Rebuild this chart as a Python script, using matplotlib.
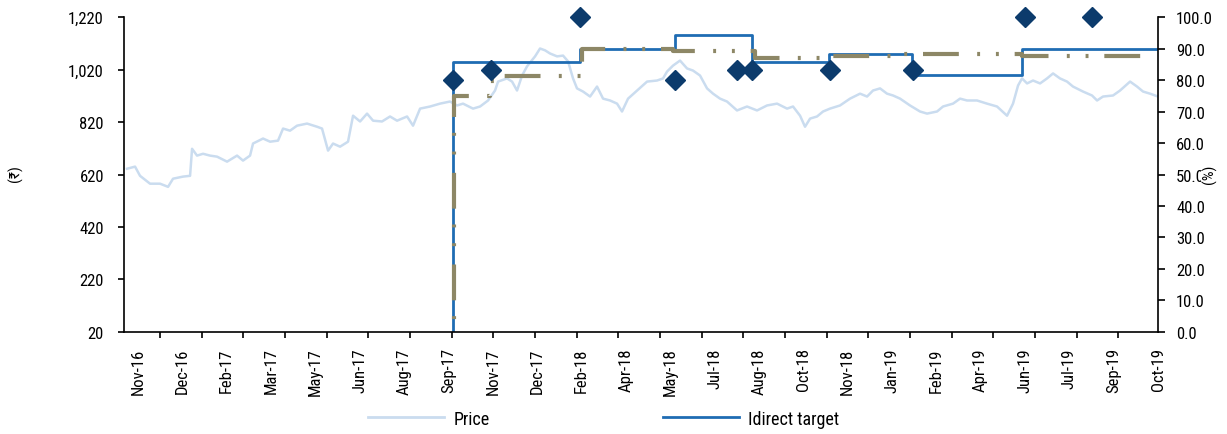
import matplotlib
matplotlib.use("Agg")
import matplotlib.pyplot as plt
from matplotlib import font_manager
from matplotlib.ticker import FuncFormatter, FixedLocator, NullFormatter

# ---------------- data ----------------
x_labels = ["Nov-16", "Dec-16", "Feb-17", "Mar-17", "May-17", "Jun-17", "Aug-17", "Sep-17",
            "Nov-17", "Dec-17", "Feb-18", "Apr-18", "May-18", "Jul-18", "Aug-18", "Oct-18",
            "Nov-18", "Jan-19", "Feb-19", "Apr-19", "Jun-19", "Jul-19", "Sep-19", "Oct-19"]

# price (week index since start, value in Rs)
price_week = [0.45, 1.66, 2.41, 3.92, 5.43, 6.64, 7.39, 8.90, 9.96, 10.26, 11.01, 11.92, 12.97,
              14.03, 15.54, 17.05, 17.95, 19.01, 19.46, 20.97, 22.03, 23.23, 23.99, 25.04, 26.10,
              27.61, 29.12, 29.87, 30.78, 31.53, 32.59, 33.79, 34.55, 35.61, 36.66, 37.57, 38.92,
              40.13, 41.19, 42.70, 43.60, 44.36, 44.66, 46.17, 47.67, 49.18, 50.24, 51.14, 52.65,
              53.71, 54.92, 55.97, 56.43, 57.78, 58.54, 59.29, 60.05, 60.80, 62.01, 62.76, 63.52,
              64.27, 65.33, 66.23, 66.99, 67.74, 68.34, 69.25, 70.31, 71.36, 72.27, 73.32, 74.38,
              75.13, 76.04, 77.40, 78.91, 80.41, 81.32, 81.92, 82.83, 83.88, 84.94, 85.84, 86.90,
              87.96, 88.86, 89.92, 90.97, 92.48, 93.99, 95.50, 97.01, 98.52, 100.03, 100.93,
              101.99, 102.74, 103.50, 104.55, 105.46, 106.51, 108.02, 109.53, 111.04, 112.10,
              113.00, 114.06, 115.11, 116.02, 117.08, 118.58, 120.09, 121.15, 122.66, 123.56,
              125.07, 126.13, 127.18, 128.69, 130.20, 131.71, 133.22, 134.12, 134.88, 135.48,
              136.24, 137.14, 138.20, 139.25, 140.16, 141.21, 142.27, 143.17, 144.68, 146.04,
              146.80, 147.70, 149.21, 150.27, 151.78, 152.83, 153.74, 154.79, 156.0]
price_value = [642, 650, 615, 585, 585, 573, 604, 612, 615, 718, 692, 699, 692,
               688, 669, 692, 673, 692, 738, 757, 745, 749, 795, 787, 806,
               814, 802, 795, 711, 738, 726, 745, 844, 822, 852, 825, 822,
               841, 825, 841, 806, 852, 871, 879, 890, 898, 883, 890, 871,
               879, 902, 940, 974, 986, 974, 940, 997, 1032, 1070, 1100, 1093,
               1081, 1070, 1073, 1051, 986, 948, 936, 917, 955, 909, 902, 890,
               860, 909, 940, 974, 978, 986, 1012, 1035, 1054, 1024, 1016, 997,
               948, 928, 909, 898, 864, 879, 864, 883, 890, 871, 879,
               844, 802, 833, 841, 860, 871, 883, 909, 928, 917,
               940, 948, 928, 921, 909, 883, 860, 852, 860, 879,
               890, 909, 902, 902, 890, 879, 844, 890, 959, 986,
               967, 978, 967, 986, 1005, 986, 974, 955, 936, 921,
               902, 917, 921, 940, 974, 955, 936, 928, 917]

# Idirect target (step changes)
target_week = [0, 49.6, 49.6, 68.8, 83.1, 94.7, 106.4, 118.9, 135.5, 156.0]
target_value = [0, 0, 1050, 1100, 1150, 1050, 1080, 1000, 1100, 1100]

# Consensus target (step changes)
cons_week = [0, 49.8, 49.8, 55.2, 56.4, 69.1, 82.8, 95.2, 106.4, 117.0, 135.5, 156.0]
cons_value = [0, 0, 920, 975, 995, 1100, 1090, 1062, 1073, 1080, 1070, 1070]

# % consensus with BUY (RHS)
buy_week = [49.6, 55.4, 68.8, 83.1, 92.5, 94.7, 106.5, 119.0, 135.9, 146.0]
buy_pct = [80.0, 83.3, 100.0, 80.0, 83.3, 83.3, 83.3, 83.3, 100.0, 100.0]

# ---------------- style ----------------
avail = {f.name for f in font_manager.fontManager.ttflist}
fam = "DejaVu Sans"
for cand in ["Liberation Sans Narrow", "DejaVu Sans Condensed", "Roboto Condensed", "Liberation Sans"]:
    if cand in avail:
        fam = cand
        break
plt.rcParams["font.family"] = [fam, "DejaVu Sans"]
fs = 12

c_price = "#cadcef"
c_target = "#1f6cb3"
c_cons = "#8d8766"
c_buy = "#0c3b6c"

fig = plt.figure(figsize=(12.27, 4.35), dpi=100)
ax = fig.add_axes([0.1011, 0.2345, 0.8427, 0.7241])
ax2 = ax.twinx()

ax.plot(price_week, price_value, color=c_price, lw=1.8, zorder=1, label="Price")
ax.step(target_week, target_value, where="post", color=c_target, lw=2.0, zorder=2,
        label="Idirect target")
ax.step(cons_week, cons_value, where="post", color=c_cons, lw=3.0, zorder=3,
        linestyle=(0, (8.6, 4.4, 0.7, 3.8, 0.7, 3.8)))
ax2.plot(buy_week, buy_pct, linestyle="none", marker="D", markersize=10,
         color=c_buy, clip_on=False, zorder=5)

n_weeks = 156.0
ax.set_xlim(0, n_weeks)
ax.set_ylim(20, 1220)
ax2.set_ylim(0, 100)

ax.set_yticks([20, 220, 420, 620, 820, 1020, 1220])
ax.yaxis.set_major_formatter(FuncFormatter(lambda v, p: f"{v:,.0f}"))
ax2.set_yticks([i * 10 for i in range(11)])
ax2.yaxis.set_major_formatter(FuncFormatter(lambda v, p: f"{v:.1f}"))

# x labels evenly spread (category-style axis), tick marks at their own interval
lab_step = (n_weeks - 2.11) / (len(x_labels) - 1)
lab_pos = [2.11 + k * lab_step for k in range(len(x_labels))]
ax.xaxis.set_major_locator(FixedLocator(lab_pos))
ax.set_xticklabels(x_labels, rotation=90)
tick_pos = [5.43 + k * 6.287 for k in range(24)]
ax.xaxis.set_minor_locator(FixedLocator(tick_pos))
ax.xaxis.set_minor_formatter(NullFormatter())
ax.tick_params(axis="x", which="major", length=0, pad=11, labelsize=fs)
ax.tick_params(axis="x", which="minor", length=4.5, width=1.2, direction="out")
ax.tick_params(axis="y", which="major", length=4.5, width=1.2, pad=10, labelsize=fs)
ax2.tick_params(axis="y", which="major", length=5, width=1.2, pad=8, labelsize=fs)

for a in (ax, ax2):
    a.spines["top"].set_visible(False)
    for s in ("left", "right", "bottom"):
        a.spines[s].set_linewidth(1.2)
        a.spines[s].set_color("black")
ax.spines["right"].set_visible(False)
ax2.spines["left"].set_visible(False)
ax2.spines["bottom"].set_visible(False)

fig.text(0.0125, 0.60, "(₹)", rotation=90, ha="center", va="center", fontsize=fs - 1)
fig.text(0.986, 0.60, "(%)", rotation=90, ha="center", va="center", fontsize=fs - 1,
         bbox=dict(facecolor="white", edgecolor="none", pad=0.5))

h1, = ax.plot([], [], color=c_price, lw=2.0)
h2, = ax.plot([], [], color=c_target, lw=2.0)
fig.legend([h1, h2], ["Price", "Idirect target"], loc="center left",
           bbox_to_anchor=(0.287, 0.035), ncol=2, frameon=False, fontsize=fs + 1,
           handlelength=4.2, columnspacing=9.6, handletextpad=0.5)

fig.savefig("out.png", dpi=100, facecolor="white")
